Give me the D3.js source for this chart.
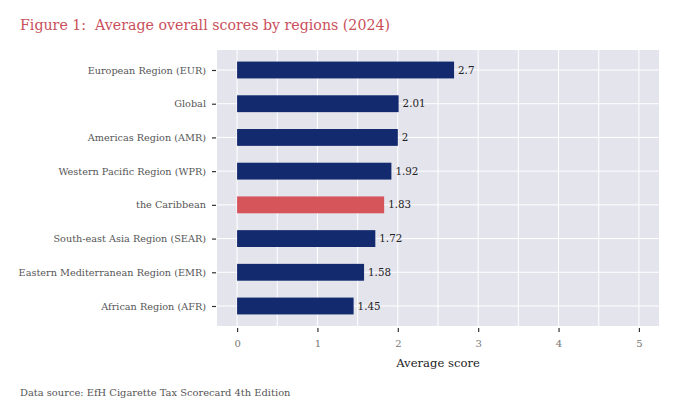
<!DOCTYPE html>
<html><head><meta charset="utf-8">
<script src="https://cdn.jsdelivr.net/npm/d3@7"></script>
<style>body{margin:0;background:#fff}svg{display:block}</style>
</head><body>
<svg id="c" width="680" height="419"></svg>
<script>
const categories = ["European Region (EUR)","Global","Americas Region (AMR)","Western Pacific Region (WPR)","the Caribbean","South-east Asia Region (SEAR)","Eastern Mediterranean Region (EMR)","African Region (AFR)"];
const scores = [2.7, 2.01, 2, 1.92, 1.83, 1.72, 1.58, 1.45];
const highlight = ["the Caribbean"];
const xTicks = [0,1,2,3,4,5];
const gridVals = [0,0.5,1,1.5,2,2.5,3,3.5,4,4.5,5];

const font = "'DejaVu Serif', 'Liberation Serif', serif";
const svg = d3.select("#c");
const L = 217, R = 659, T = 50, B = 326;

svg.append("text").attr("x", 20).attr("y", 30).text("Figure 1:  Average overall scores by regions (2024)")
  .style("white-space", "pre")
  .attr("font-family", font).attr("font-size", 14.2).attr("fill", "#c9505b");

svg.append("rect").attr("x", L).attr("y", T).attr("width", R-L).attr("height", B-T).attr("fill", "#e4e4ed");

const x = d3.scaleLinear().domain([-0.25, 5.25]).range([L, R]);
const y = d3.scalePoint().domain(categories).range([70, 306]);
const step = y.step();
const bh = step * 0.5;

const g = svg.append("g");
g.selectAll(".vg").data(gridVals).join("line")
  .attr("x1", d => x(d)).attr("x2", d => x(d)).attr("y1", T).attr("y2", B)
  .attr("stroke", "#fff").attr("stroke-width", 1);
g.selectAll(".hg").data(categories).join("line")
  .attr("x1", L).attr("x2", R).attr("y1", d => y(d)).attr("y2", d => y(d))
  .attr("stroke", "#fff").attr("stroke-width", 1);

const data = categories.map((c, i) => ({c, v: scores[i]}));
g.selectAll(".bar").data(data).join("rect")
  .attr("x", x(0)).attr("y", d => y(d.c) - bh/2)
  .attr("width", d => x(d.v) - x(0)).attr("height", bh)
  .attr("fill", d => highlight.includes(d.c) ? "#d5555b" : "#132b6e");

g.selectAll(".lab").data(data).join("text")
  .attr("x", d => x(d.v) + 4).attr("y", d => y(d.c)).attr("dy", "0.35em")
  .text(d => d3.format("")(d.v))
  .attr("font-family", font).attr("font-size", 10.3).attr("fill", "#222");

// y axis
const ya = svg.append("g").attr("transform", `translate(${L-1},0)`)
  .call(d3.axisLeft(y).tickSize(4).tickPadding(6));
ya.select(".domain").remove();
ya.selectAll("line").attr("stroke", "#333").attr("stroke-width", 1.2);
ya.selectAll("text").attr("font-family", font).attr("font-size", 9.7).attr("fill", "#555");

// x axis
const xa = svg.append("g").attr("transform", `translate(0,${B+2})`)
  .call(d3.axisBottom(x).tickValues(xTicks).tickFormat(d3.format("d")).tickSize(4).tickPadding(8));
xa.select(".domain").remove();
xa.selectAll("line").attr("stroke", "#333").attr("stroke-width", 1.2);
xa.selectAll("text").attr("font-family", font).attr("font-size", 10).attr("fill", "#777");

svg.append("text").attr("x", x(2.5)).attr("y", 367).attr("text-anchor", "middle")
  .text("Average score").attr("font-family", font).attr("font-size", 11.6).attr("fill", "#222");

svg.append("text").attr("x", 20).attr("y", 396).text("Data source: EfH Cigarette Tax Scorecard 4th Edition")
  .attr("font-family", font).attr("font-size", 9.9).attr("fill", "#555");
</script>
</body></html>
